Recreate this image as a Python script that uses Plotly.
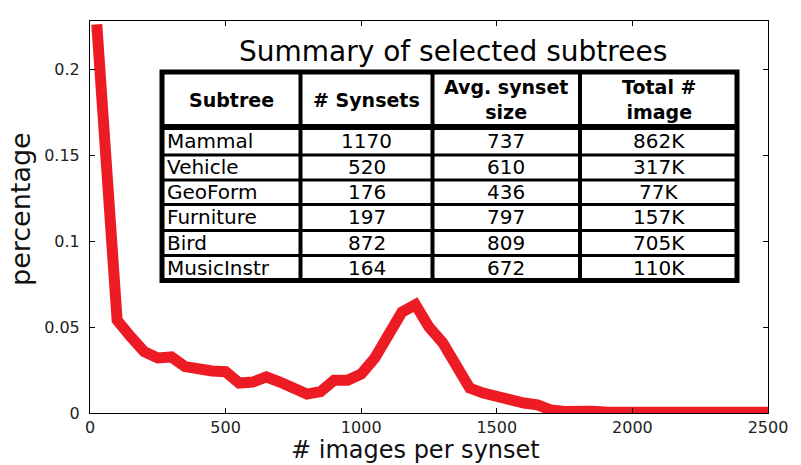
import plotly.graph_objects as go

# ---- data ----
x_vals = [25, 100, 150, 200, 250, 300, 350, 400, 450, 500, 550, 600, 650, 700, 750,
          800, 850, 900, 950, 1000, 1050, 1100, 1150, 1200, 1250, 1300, 1350, 1400,
          1450, 1500, 1550, 1600, 1650, 1700, 1750, 1800, 1850, 1900, 1950, 2000,
          2050, 2100, 2150, 2200, 2250, 2300, 2350, 2400, 2450, 2500]
y_vals = [0.226, 0.054, 0.0444, 0.0356, 0.032, 0.0326, 0.027, 0.025, 0.0244, 0.024,
          0.0174, 0.018, 0.021, 0.018, 0.0145, 0.011, 0.0124, 0.019, 0.019, 0.0227,
          0.032, 0.046, 0.0587, 0.063, 0.05, 0.041, 0.027, 0.0145, 0.0116, 0.0093,
          0.007, 0.0058, 0.0047, 0.0017, 0.0009, 0.0014, 0.001, 0.0006, 0.0006, 0.001,
          0.0005, 0.0005, 0.0004, 0.0004, 0.0004, 0.0004, 0.0005, 0.0005, 0.0005, 0.0005]

x_ticks = [0, 500, 1000, 1500, 2000, 2500]
y_ticks = [0, 0.05, 0.1, 0.15, 0.2]
y_tick_labels = ["0", "0.05", "0.1", "0.15", "0.2"]

x_title = "# images per synset"
y_title = "percentage"
table_title = "Summary of selected subtrees"
header = ["Subtree", "# Synsets", "Avg. synset<br>size", "Total #<br>image"]
subtrees = ["Mammal", "Vehicle", "GeoForm", "Furniture", "Bird", "MusicInstr"]
n_synsets = ["1170", "520", "176", "197", "872", "164"]
avg_size = ["737", "610", "436", "797", "809", "672"]
total_img = ["862K", "317K", "77K", "157K", "705K", "110K"]

# ---- layout geometry (page pixels) ----
W, H = 801, 465
PL, PR, PT, PB = 90, 768, 21, 413          # plot area
L, R, T, B = PL, W - PR, PT, H - PB
PW, PH = PR - PL, PB - PT

def px(xp):
    return (xp - PL) / PW

def py(yp):
    return (PB - yp) / PH

RED = "#ED1C24"
FONT = "DejaVu Sans"

fig = go.Figure()
fig.add_trace(go.Scatter(x=x_vals, y=y_vals, mode="lines",
                         line=dict(color=RED, width=11), hoverinfo="skip"))

# ---- table ----
col_edges = [162, 300.5, 432.5, 580, 737]
row_edges = [72, 127, 155, 180, 204.5, 230.5, 255.5, 280.5]
shapes = []
shapes.append(dict(type="rect", xref="paper", yref="paper",
                   x0=px(col_edges[0]), x1=px(col_edges[-1]),
                   y0=py(row_edges[0]), y1=py(row_edges[-1]),
                   fillcolor="white", line=dict(width=0), layer="above"))
for c in col_edges[1:-1]:
    shapes.append(dict(type="line", xref="paper", yref="paper", x0=px(c), x1=px(c),
                       y0=py(row_edges[0]), y1=py(row_edges[-1]),
                       line=dict(color="black", width=4), layer="above"))
for i, r in enumerate(row_edges[1:-1]):
    shapes.append(dict(type="line", xref="paper", yref="paper",
                       x0=px(col_edges[0]), x1=px(col_edges[-1]), y0=py(r), y1=py(r),
                       line=dict(color="black", width=6 if i == 0 else 3), layer="above"))
shapes.append(dict(type="rect", xref="paper", yref="paper",
                   x0=px(col_edges[0]), x1=px(col_edges[-1]),
                   y0=py(row_edges[0]), y1=py(row_edges[-1]),
                   line=dict(color="black", width=5), layer="above"))

ann = []
ann.append(dict(text=table_title, xref="paper", yref="paper", x=px(453), y=py(51),
                xanchor="center", yanchor="middle", showarrow=False,
                font=dict(family=FONT, size=28, color="black")))
for j, h in enumerate(header):
    xc = (col_edges[j] + col_edges[j + 1]) / 2
    yc = (row_edges[0] + row_edges[1]) / 2
    ann.append(dict(text="<b>" + h + "</b>", xref="paper", yref="paper", x=px(xc), y=py(yc),
                    xanchor="center", yanchor="middle", showarrow=False,
                    font=dict(family=FONT, size=19, color="black")))
columns = [subtrees, n_synsets, avg_size, total_img]
for i in range(len(subtrees)):
    yc = (row_edges[i + 1] + row_edges[i + 2]) / 2
    for j, col in enumerate(columns):
        if j == 0:
            xa, xanc = px(col_edges[0] + 3), "left"
        else:
            xa, xanc = px((col_edges[j] + col_edges[j + 1]) / 2), "center"
        ann.append(dict(text=col[i], xref="paper", yref="paper", x=xa, y=py(yc),
                        xanchor=xanc, yanchor="middle", showarrow=False,
                        font=dict(family=FONT, size=20, color="black")))

# axis titles
ann.append(dict(text=x_title, xref="paper", yref="paper", x=px(415), y=py(450),
                xanchor="center", yanchor="middle", showarrow=False,
                font=dict(family=FONT, size=24, color="#111")))
ann.append(dict(text=y_title, xref="paper", yref="paper", x=px(20), y=py(209),
                xanchor="center", yanchor="middle", showarrow=False, textangle=-90,
                font=dict(family=FONT, size=27, color="#111")))

axis_common = dict(showline=True, linecolor="black", linewidth=1, mirror="ticks",
                   ticks="inside", ticklen=5, tickcolor="black", showgrid=False,
                   zeroline=False, automargin=False,
                   tickfont=dict(family=FONT, size=16, color="#222"))

fig.update_layout(
    width=W, height=H, margin=dict(l=L, r=R, t=T, b=B),
    paper_bgcolor="white", plot_bgcolor="white", showlegend=False,
    xaxis=dict(range=[0, 2500], tickvals=x_ticks, ticktext=[str(v) for v in x_ticks],
               ticklabelstandoff=0, **axis_common),
    yaxis=dict(range=[0, 0.228], tickvals=y_ticks, ticktext=y_tick_labels,
               ticklabelstandoff=6, **axis_common),
    shapes=shapes, annotations=ann,
)

fig.write_html("out.html", config={"displayModeBar": False},
               post_script="document.body.style.margin='0';")
